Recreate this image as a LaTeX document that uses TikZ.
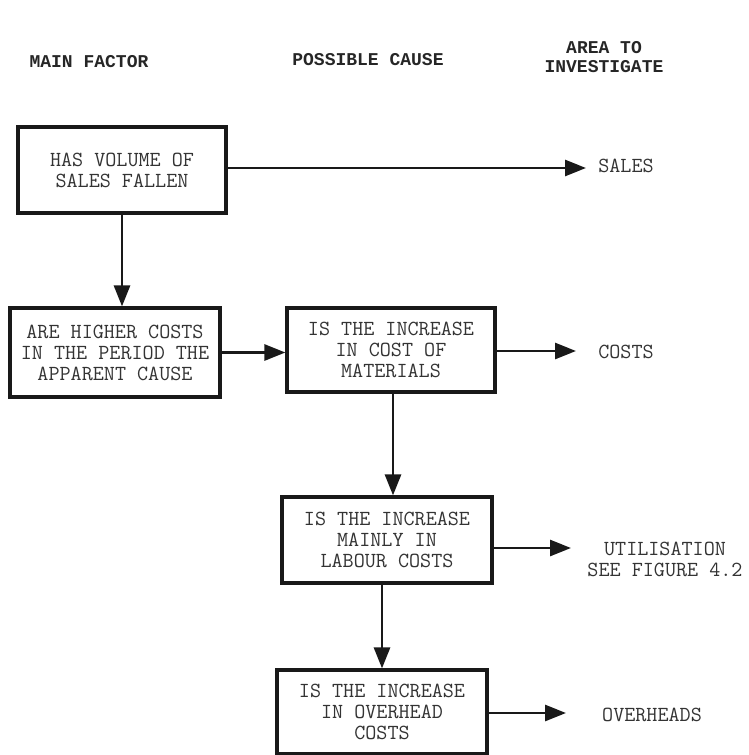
\documentclass[tikz,border=0pt]{standalone}
\usepackage{fontspec}
\newfontfamily\monofont{Liberation Mono}
\usetikzlibrary{arrows.meta}
\begin{document}
\begin{tikzpicture}[x=1pt,y=-1pt,
  txt/.style={font=\ttfamily\fontsize{21.5}{21}\selectfont, text=black!80, align=center},
  hdr/.style={font=\monofont\bfseries\fontsize{18}{19}\selectfont, text=black!85, align=center},
  box/.style={txt, draw=black!90, line width=3.2pt, fill=white, inner sep=0pt},
  arr/.style={draw=black!90, line width=2.8pt, -{Triangle[length=21pt,width=16pt]}}
]
\useasboundingbox (0,0) rectangle (748,755);
% headers
\node[hdr] (h1) at (89,62) {MAIN FACTOR};
\node[hdr] (h2) at (368,60) {POSSIBLE CAUSE};
\node[hdr] (h3) at (604,57) {AREA TO\\INVESTIGATE};
% boxes
\node[box, minimum width=208pt, minimum height=86pt] (b1) at (122,170) {HAS VOLUME OF\\SALES FALLEN};
\node[box, minimum width=210pt, minimum height=89pt] (b2) at (115,352.5) {ARE HIGHER COSTS\\IN THE PERIOD THE\\APPARENT CAUSE};
\node[box, minimum width=208pt, minimum height=84pt] (b3) at (391,350) {IS THE INCREASE\\IN COST OF\\MATERIALS};
\node[box, minimum width=210pt, minimum height=86pt] (b4) at (387,540) {IS THE INCREASE\\MAINLY IN\\LABOUR COSTS};
\node[box, minimum width=210pt, minimum height=84pt] (b5) at (382,712) {IS THE INCREASE\\IN OVERHEAD\\COSTS};
% area labels
\node[txt] (sales) at (626,166) {SALES};
\node[txt] (costs) at (626,352) {COSTS};
\node[txt] (util) at (665,559) {UTILISATION\\SEE FIGURE 4.2};
\node[txt] (over) at (652,715) {OVERHEADS};
% arrow ends
\coordinate (e1) at (586,168);
\coordinate (e3) at (576,351);
\coordinate (e4) at (571,548);
\coordinate (e5) at (566,713);
% connectors
\draw[arr] (b1.east |- e1) -- (e1);
\draw[arr] (b1.south) -- (b1.south |- b2.north);
\draw[arr] (b2.east) -- (b3.west |- b2.east);
\draw[arr] (b3.east |- e3) -- (e3);
\draw[arr] ([xshift=2pt]b3.south) -- ([xshift=2pt]b3.south |- b4.north);
\draw[arr] (b4.east |- e4) -- (e4);
\draw[arr] (b5.north |- b4.south) -- (b5.north);
\draw[arr] (b5.east |- e5) -- (e5);
\end{tikzpicture}
\end{document}
